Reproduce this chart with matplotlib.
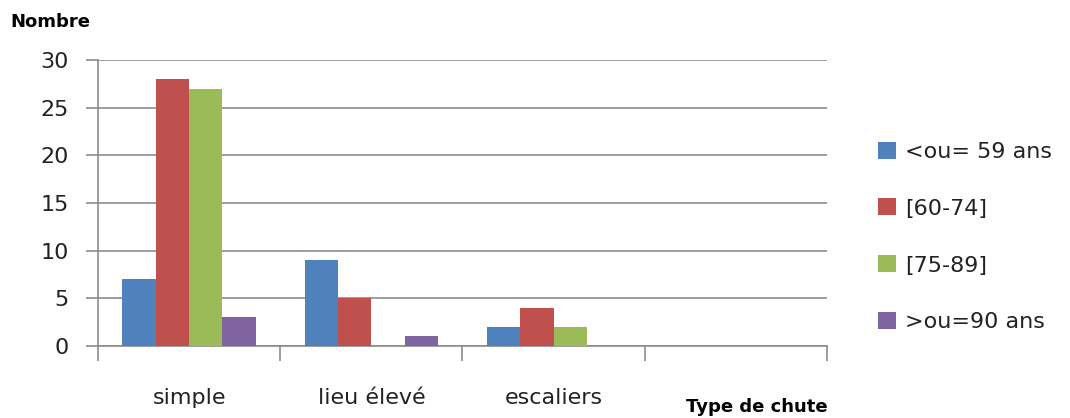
import numpy as np
import matplotlib
matplotlib.use("Agg")
import matplotlib.pyplot as plt

categories = ["simple", "lieu élevé", "escaliers", ""]
series = ["<ou= 59 ans", "[60-74]", "[75-89]", ">ou=90 ans"]
colors = ["#4F81BD", "#C0504D", "#9BBB59", "#8064A2"]
v59 = [7, 9, 2, 0]
v60_74 = [28, 5, 4, 0]
v75_89 = [27, 0, 2, 0]
v90 = [3, 1, 0, 0]
values = [v59, v60_74, v75_89, v90]

fig = plt.figure(figsize=(10.7, 4.18), dpi=100)
ax = fig.add_axes([98/1070, 1-346/418, (827-98)/1070, (346-60)/418])

x = np.arange(len(categories))
w = 0.183
for i, (vals, lab, c) in enumerate(zip(values, series, colors)):
    ax.bar(x + (i - 1.5) * w, vals, width=w, color=c, label=lab, zorder=3)

ax.set_xlim(-0.5, len(categories) - 0.5)
ax.set_ylim(0, 30)
ax.set_yticks(range(0, 31, 5))
ax.yaxis.grid(True, color="#8c8c8c", linewidth=1.2, zorder=0)
for s in ["top", "right"]:
    ax.spines[s].set_visible(False)
for s in ["left", "bottom"]:
    ax.spines[s].set_color("#8c8c8c")
    ax.spines[s].set_linewidth(1.2)

# category labels centred, ticks at boundaries
ax.set_xticks(np.arange(-0.5, len(categories)), minor=False)
ax.set_xticklabels([])
ax.set_xticks(x, minor=True)
ax.set_xticklabels(categories, minor=True, fontsize=16, color="#222222")
ax.tick_params(axis="x", which="major", length=11, color="#8c8c8c", width=1.2)
ax.tick_params(axis="x", which="minor", length=0, pad=30)
ax.tick_params(axis="y", length=9, color="#8c8c8c", width=1.2, labelsize=16,
               labelcolor="#222222", pad=12)

fig.text(10/1070, 1-22/418, "Nombre", fontsize=13, fontweight="bold", va="center")
fig.text(828/1070, 1-407/418, "Type de chute", fontsize=13, fontweight="bold",
         ha="right", va="center")

leg = fig.legend(loc="center left", bbox_to_anchor=(858/1070, 1-237/418), frameon=False,
                 fontsize=16, handlelength=0.8, handleheight=0.8, handletextpad=0.4,
                 labelspacing=1.65)
for t in leg.get_texts():
    t.set_color("#222222")

fig.savefig("out.png", dpi=100)
